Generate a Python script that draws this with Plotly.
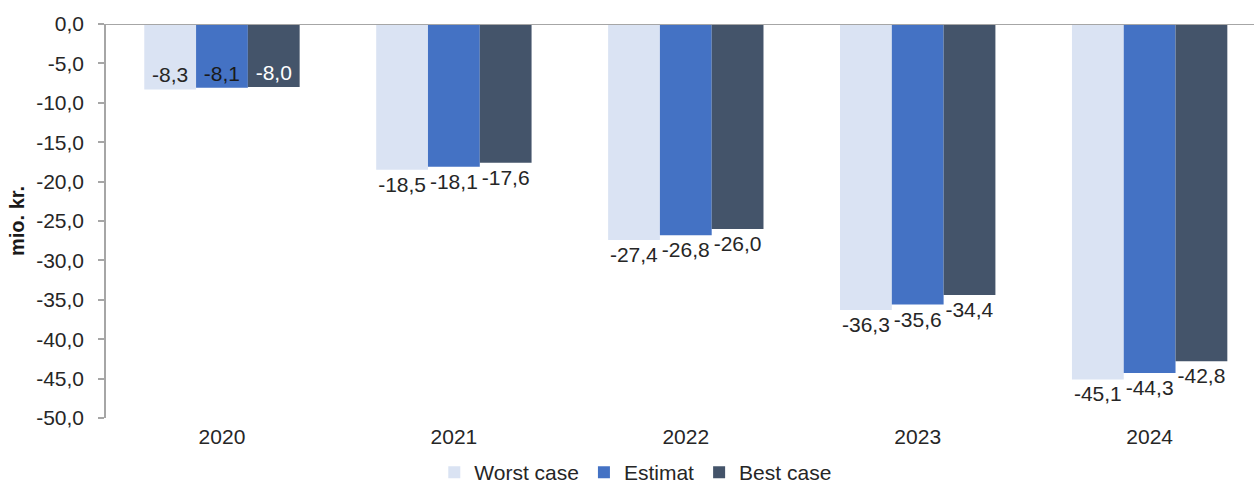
import plotly.graph_objects as go

years = ["2020", "2021", "2022", "2023", "2024"]
worst_case = [-8.3, -18.5, -27.4, -36.3, -45.1]
estimat = [-8.1, -18.1, -26.8, -35.6, -44.3]
best_case = [-8.0, -17.6, -26.0, -34.4, -42.8]
y_ticks = [0, -5, -10, -15, -20, -25, -30, -35, -40, -45, -50]
y_ticktext = [f"{v:.1f}".replace(".", ",") for v in y_ticks]

series = [
    ("Worst case", worst_case, "#DAE3F3", "#262626"),
    ("Estimat", estimat, "#4472C4", "#1a1a1a"),
    ("Best case", best_case, "#44546A", "#FFFFFF"),
]

FONT = "Liberation Sans, Arial, sans-serif"
TXT = "#262626"
FS = 21

fig = go.Figure()
for name, vals, color, incol in series:
    pos = ["inside" if i == 0 else "outside" for i in range(len(vals))]
    labels = [f"{v:.1f}".replace(".", ",") for v in vals]
    fig.add_trace(go.Bar(
        x=years, y=vals, name=name,
        marker=dict(color=color, line=dict(width=0)),
        text=labels,
        texttemplate="%{text}",
        textposition=pos,
        insidetextanchor="end",
        insidetextfont=dict(color=incol, size=FS, family=FONT),
        outsidetextfont=dict(color=TXT, size=FS, family=FONT),
        constraintext="none",
        cliponaxis=False,
        hoverinfo="skip",
    ))

fig.update_layout(
    width=1254, height=493,
    margin=dict(l=106, r=0, t=24, b=75),
    paper_bgcolor="white", plot_bgcolor="white",
    barmode="group", bargap=0.33, bargroupgap=0,
    font=dict(family=FONT, size=FS, color=TXT),
    showlegend=True,
    legend=dict(orientation="h", xref="container", yref="container",
                x=0.507, xanchor="center", y=0.0, yanchor="bottom",
                font=dict(size=FS, color=TXT), itemwidth=30,
                traceorder="normal"),
    xaxis=dict(type="category", range=[-0.5, 4.45], showline=False,
               showgrid=False, ticks="", tickfont=dict(size=FS, color=TXT),
               ticklabelstandoff=4),
    yaxis=dict(range=[-50, 0], tickvals=y_ticks, ticktext=y_ticktext,
               showgrid=False, zeroline=False, showline=True,
               linecolor="#A6A6A6", linewidth=1.5, ticks="outside",
               ticklen=6, tickcolor="#A6A6A6", tickwidth=1.5,
               tickfont=dict(size=FS, color=TXT), ticklabelstandoff=10,
               title=dict(text="<b>mio. kr.</b>", font=dict(size=20, color="#1a1a1a"),
                          standoff=6)),
    shapes=[dict(type="line", xref="paper", yref="y", x0=0, x1=1, y0=0, y1=0,
                 line=dict(color="#A6A6A6", width=2), layer="above")],
)

fig.write_html("out.html")
